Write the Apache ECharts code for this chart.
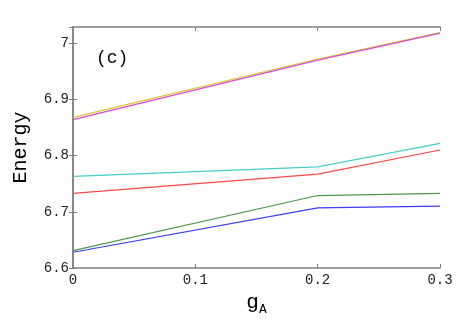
<!DOCTYPE html>
<html>
<head>
<meta charset="utf-8">
<script src="https://cdn.jsdelivr.net/npm/echarts@6/dist/echarts.min.js"></script>
<style>
html,body{margin:0;padding:0;background:#fff;}
#main{width:457px;height:321px;}
</style>
</head>
<body>
<div id="main"></div>
<script>
var xVals = [0, 0.2, 0.3];
var yellowLine = [6.868, 6.972, 7.019];
var magentaLine = [6.864, 6.970, 7.018];
var cyanLine = [6.763, 6.780, 6.822];
var redLine = [6.733, 6.767, 6.810];
var greenLine = [6.631, 6.729, 6.733];
var blueLine = [6.628, 6.707, 6.710];

var myChart = echarts.init(document.getElementById('main'));
var mono = 'Liberation Mono';
var axisGray = '#808080';

function pairs(ys) {
    var res = [];
    for (var i = 0; i < xVals.length; i++) {
        res.push([xVals[i], ys[i]]);
    }
    return res;
}
function mkLine(name, ys, color) {
    return {
        name: name,
        type: 'line',
        data: pairs(ys),
        showSymbol: false,
        symbol: 'none',
        lineStyle: {color: color, width: 1.2},
        itemStyle: {color: color},
        animation: false
    };
}

var option = {
    backgroundColor: '#fff',
    title: {
        text: '(c)',
        left: 91,
        top: 44,
        textStyle: {fontFamily: mono, fontSize: 18, fontWeight: 'normal', color: '#000'}
    },
    grid: {left: 73, right: 17, top: 27, bottom: 53, outerBoundsMode: 'none'},
    xAxis: [{
        type: 'value',
        min: 0, max: 0.3, interval: 0.1,
        name: 'g{sub|A}',
        nameLocation: 'middle',
        nameGap: 18,
        nameTextStyle: {
            fontFamily: mono, fontSize: 21, color: '#000',
            rich: {sub: {fontFamily: mono, fontSize: 13, color: '#000', verticalAlign: 'bottom', padding: [14, 0, 0, 0]}}
        },
        axisLine: {lineStyle: {color: axisGray, width: 1.5}},
        axisTick: {inside: true, length: 4, lineStyle: {color: axisGray}},
        axisLabel: {fontFamily: mono, fontSize: 14, color: '#222', margin: 5},
        splitLine: {show: false}
    }, {
        type: 'value', position: 'top',
        min: 0, max: 0.3, interval: 0.1,
        axisLine: {show: true, lineStyle: {color: axisGray, width: 1.5}},
        axisTick: {inside: true, length: 4, lineStyle: {color: axisGray}},
        axisLabel: {show: false},
        splitLine: {show: false}
    }],
    yAxis: [{
        type: 'value',
        min: 6.6, max: 7.029, interval: 0.1,
        name: 'Energy',
        nameLocation: 'middle',
        nameGap: 42,
        nameTextStyle: {fontFamily: mono, fontSize: 20, color: '#000'},
        axisLine: {show: true, lineStyle: {color: axisGray, width: 1.5}},
        axisTick: {inside: true, length: 4, lineStyle: {color: axisGray}},
        axisLabel: {fontFamily: mono, fontSize: 14, color: '#222', margin: 4, showMaxLabel: false},
        splitLine: {show: false}
    }, {
        type: 'value', position: 'right',
        min: 6.6, max: 7.029, interval: 0.1,
        axisLine: {show: true, lineStyle: {color: axisGray, width: 1.5}},
        axisTick: {inside: true, length: 4, lineStyle: {color: axisGray}},
        axisLabel: {show: false},
        splitLine: {show: false}
    }],
    series: [
        mkLine('a', yellowLine, '#d8c830'),
        mkLine('b', magentaLine, '#d848d8'),
        mkLine('c', cyanLine, '#48cccc'),
        mkLine('d', redLine, '#ff4848'),
        mkLine('e', greenLine, '#4c9a4c'),
        mkLine('f', blueLine, '#3c3cff')
    ]
};
myChart.setOption(option);
</script>
</body>
</html>
